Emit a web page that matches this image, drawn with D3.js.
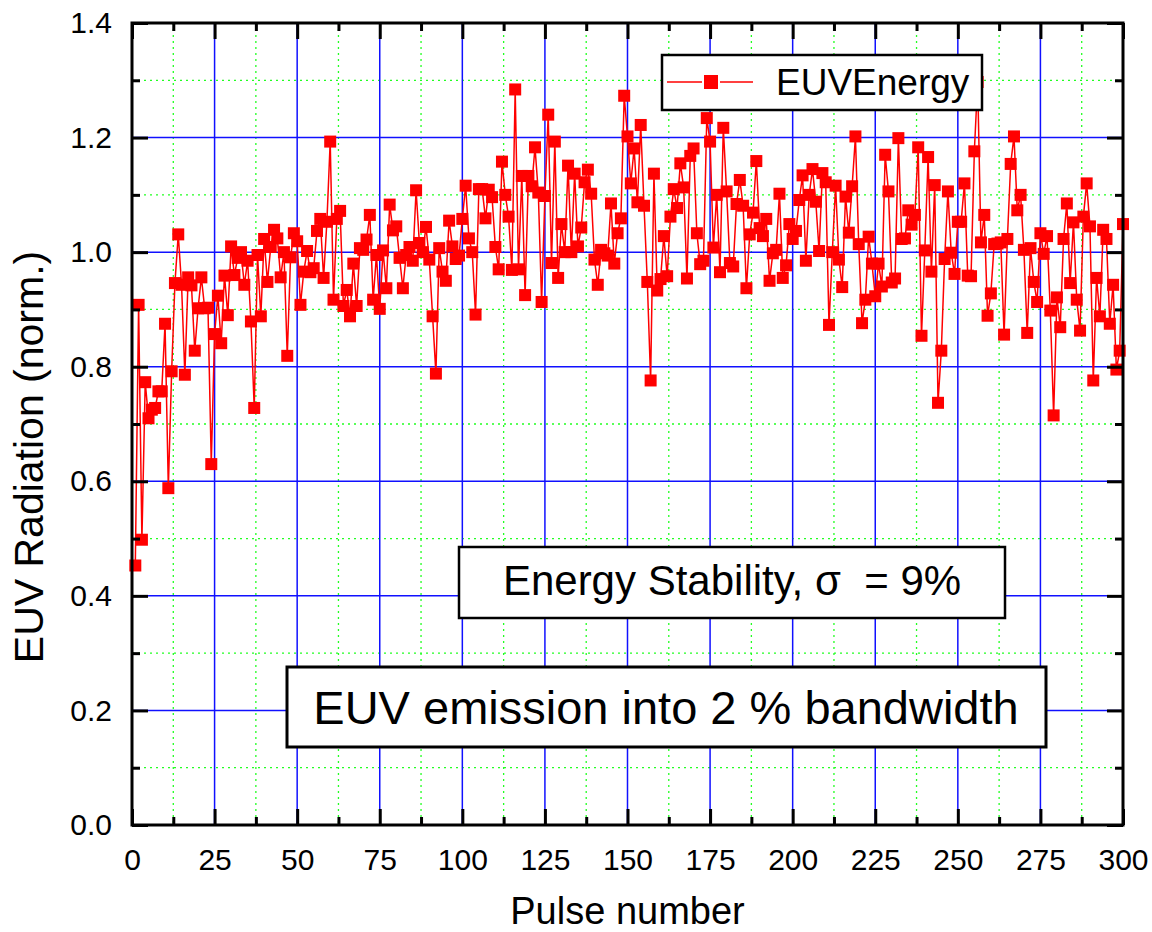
<!DOCTYPE html>
<html>
<head>
<meta charset="utf-8">
<script src="https://cdn.jsdelivr.net/npm/d3@7"></script>
<style>
  body { margin: 0; background: #fff; }
  text { font-family: "Liberation Sans", Arial, sans-serif; fill: #000; }
</style>
</head>
<body>
<script>
// EUV energy per pulse, pulses 1..300
var energy = [
  0.453, 0.908, 0.498, 0.773, 0.710, 0.725, 0.728, 0.757, 0.757, 0.875,
  0.588, 0.792, 0.946, 1.031, 0.943, 0.786, 0.956, 0.942, 0.828, 0.902,
  0.956, 0.902, 0.903, 0.630, 0.857, 0.924, 0.841, 0.959, 0.890, 1.010,
  0.960, 0.990, 1.000, 0.943, 0.985, 0.879, 0.728, 0.995, 0.888, 1.023,
  0.948, 1.009, 1.039, 1.024, 0.956, 1.000, 0.819, 0.991, 1.033, 1.019,
  0.908, 0.966, 1.002, 0.965, 0.972, 1.037, 1.058, 0.955, 1.053, 1.193,
  0.917, 1.058, 1.072, 0.906, 0.934, 0.888, 0.980, 0.906, 1.007, 1.004,
  1.022, 1.065, 0.917, 0.995, 0.901, 1.003, 0.937, 1.083, 1.038, 1.045,
  0.990, 0.937, 0.995, 1.009, 0.985, 1.108, 1.016, 1.000, 1.044, 0.987,
  0.888, 0.788, 1.007, 0.966, 0.950, 1.055, 1.010, 0.988, 0.994, 1.058,
  1.116, 1.024, 1.000, 0.891, 1.110, 1.110, 1.059, 1.109, 1.096, 1.009,
  0.970, 1.158, 1.100, 1.062, 0.969, 1.284, 0.970, 1.133, 0.925, 1.133,
  1.115, 1.183, 1.104, 0.913, 1.098, 1.240, 0.981, 1.193, 0.955, 1.049,
  1.000, 1.151, 1.000, 1.137, 1.010, 1.043, 1.122, 1.144, 1.102, 0.987,
  0.943, 1.004, 0.998, 0.994, 1.085, 0.980, 1.033, 1.059, 1.273, 1.202,
  1.120, 1.181, 1.087, 1.222, 1.081, 0.948, 0.776, 1.137, 0.933, 0.953,
  1.028, 0.958, 1.062, 1.110, 1.077, 1.155, 1.113, 0.954, 1.168, 1.181,
  1.033, 0.979, 0.985, 1.234, 1.193, 1.008, 1.100, 0.965, 1.217, 1.106,
  0.981, 0.975, 1.084, 1.126, 1.081, 0.937, 1.031, 1.069, 1.159, 1.042,
  1.028, 1.058, 0.950, 0.998, 1.004, 1.102, 0.955, 0.977, 1.049, 1.023,
  1.037, 1.091, 1.134, 0.985, 1.100, 1.145, 1.088, 1.002, 1.138, 1.122,
  0.873, 1.000, 1.116, 0.987, 0.939, 1.097, 1.034, 1.115, 1.202, 1.014,
  0.876, 0.917, 1.027, 0.980, 0.923, 0.980, 0.940, 1.170, 1.106, 0.947,
  0.954, 1.199, 1.023, 1.024, 1.073, 1.048, 1.065, 1.183, 0.854, 1.003,
  1.166, 0.966, 1.117, 0.737, 0.828, 0.988, 1.106, 0.999, 0.962, 1.053,
  1.053, 1.120, 0.959, 0.958, 1.176, 1.297, 1.017, 1.065, 0.889, 0.928,
  1.014, 1.015, 1.017, 0.856, 1.023, 1.154, 1.202, 1.073, 1.100, 1.004,
  0.859, 1.007, 0.948, 0.913, 1.033, 0.997, 1.028, 0.898, 0.715, 0.921,
  0.869, 1.023, 1.085, 0.946, 1.052, 0.917, 0.863, 1.062, 1.120, 1.045,
  0.776, 0.955, 0.888, 1.039, 1.023, 0.875, 0.943, 0.795, 0.828, 1.049
];

var xTicks = [0, 25, 50, 75, 100, 125, 150, 175, 200, 225, 250, 275, 300];
var xMinor = [12.5, 37.5, 62.5, 87.5, 112.5, 137.5, 162.5, 187.5, 212.5, 237.5, 262.5, 287.5];
var yTicks = [0.0, 0.2, 0.4, 0.6, 0.8, 1.0, 1.2, 1.4];
var yMinor = [0.1, 0.3, 0.5, 0.7, 0.9, 1.1, 1.3];

var seriesName = "EUVEnergy";
var note1 = "Energy Stability, \u03c3 \u00a0= 9%";
var note2 = "EUV emission into 2 % bandwidth";

var W = 1152, H = 932;
var margin = {top: 23, right: 29, bottom: 107, left: 132},
  width = W - margin.left - margin.right,
  height = H - margin.top - margin.bottom;

var x = d3.scaleLinear().domain([0, 300]).range([0, width]);
var y = d3.scaleLinear().domain([0, 1.4]).range([height, 0]);

var svg = d3.select("body").append("svg")
  .attr("width", W)
  .attr("height", H);

var g = svg.append("g")
  .attr("transform", "translate(" + margin.left + "," + margin.top + ")");

// minor grid (green dotted)
g.append("g").selectAll("line.vminor")
  .data(xMinor).enter().append("line")
  .attr("x1", function(d) { return x(d); })
  .attr("x2", function(d) { return x(d); })
  .attr("y1", 0).attr("y2", height)
  .attr("stroke", "#22ff22").attr("stroke-width", 1.3)
  .attr("stroke-dasharray", "2,4");

g.append("g").selectAll("line.hminor")
  .data(yMinor).enter().append("line")
  .attr("y1", function(d) { return y(d); })
  .attr("y2", function(d) { return y(d); })
  .attr("x1", 0).attr("x2", width)
  .attr("stroke", "#22ff22").attr("stroke-width", 1.3)
  .attr("stroke-dasharray", "2,4");

// major grid (blue)
g.append("g").selectAll("line")
  .data(xTicks.slice(1, -1)).enter().append("line")
  .attr("x1", function(d) { return x(d); })
  .attr("x2", function(d) { return x(d); })
  .attr("y1", 0).attr("y2", height)
  .attr("stroke", "#1010ff").attr("stroke-width", 1.5);

g.append("g").selectAll("line")
  .data(yTicks.slice(1, -1)).enter().append("line")
  .attr("y1", function(d) { return y(d); })
  .attr("y2", function(d) { return y(d); })
  .attr("x1", 0).attr("x2", width)
  .attr("stroke", "#1010ff").attr("stroke-width", 1.5);

// data line + markers
var line = d3.line()
  .x(function(d, i) { return x(i + 1); })
  .y(function(d) { return y(d); });

g.append("path")
  .datum(energy)
  .attr("fill", "none")
  .attr("stroke", "#ff0000")
  .attr("stroke-width", 1.5)
  .attr("d", line);

var ms = 12;
g.append("g").selectAll("rect")
  .data(energy).enter().append("rect")
  .attr("x", function(d, i) { return x(i + 1) - ms / 2; })
  .attr("y", function(d) { return y(d) - ms / 2; })
  .attr("width", ms).attr("height", ms)
  .attr("fill", "#ff0000");

// axes: labels on bottom/left, inward ticks on all sides
function styleAxis(sel) {
  sel.select(".domain").remove();
  sel.selectAll(".tick line").attr("stroke", "#000").attr("stroke-width", 3);
  sel.selectAll("text").style("font-size", "30px").attr("fill", "#000");
}

g.append("g")
  .attr("transform", "translate(0," + height + ")")
  .call(d3.axisBottom(x).tickValues(xTicks).tickSize(-16).tickPadding(24))
  .call(styleAxis);
g.append("g")
  .attr("transform", "translate(0," + height + ")")
  .call(d3.axisBottom(x).tickValues(xMinor).tickSize(-8).tickFormat(""))
  .call(styleAxis);

g.append("g")
  .call(d3.axisTop(x).tickValues(xTicks).tickSize(-16).tickFormat(""))
  .call(styleAxis);
g.append("g")
  .call(d3.axisTop(x).tickValues(xMinor).tickSize(-8).tickFormat(""))
  .call(styleAxis);

g.append("g")
  .call(d3.axisLeft(y).tickValues(yTicks).tickSize(-16).tickPadding(20).tickFormat(d3.format(".1f")))
  .call(styleAxis);
g.append("g")
  .call(d3.axisLeft(y).tickValues(yMinor).tickSize(-8).tickFormat(""))
  .call(styleAxis);

g.append("g")
  .attr("transform", "translate(" + width + ",0)")
  .call(d3.axisRight(y).tickValues(yTicks).tickSize(-16).tickFormat(""))
  .call(styleAxis);
g.append("g")
  .attr("transform", "translate(" + width + ",0)")
  .call(d3.axisRight(y).tickValues(yMinor).tickSize(-8).tickFormat(""))
  .call(styleAxis);

// frame
g.append("rect")
  .attr("width", width).attr("height", height)
  .attr("fill", "none").attr("stroke", "#000").attr("stroke-width", 3);

// axis titles
svg.append("text")
  .attr("x", margin.left + width / 2)
  .attr("y", 924)
  .attr("text-anchor", "middle")
  .style("font-size", "38px")
  .text("Pulse number");

svg.append("text")
  .attr("transform", "translate(43,457) rotate(-90)")
  .attr("text-anchor", "middle")
  .style("font-size", "41px")
  .text("EUV Radiation (norm.)");

// legend
var lg = svg.append("g");
lg.append("rect")
  .attr("x", 662).attr("y", 55).attr("width", 320).attr("height", 55)
  .attr("fill", "#fff").attr("stroke", "#000").attr("stroke-width", 2.5);
lg.append("line")
  .attr("x1", 667).attr("x2", 753).attr("y1", 82).attr("y2", 82)
  .attr("stroke", "#ff0000").attr("stroke-width", 1.5);
lg.append("rect")
  .attr("x", 711 - 7).attr("y", 82 - 7).attr("width", 14).attr("height", 14)
  .attr("fill", "#ff0000").attr("stroke", "#fff").attr("stroke-width", 4);
lg.append("rect")
  .attr("x", 711 - 7).attr("y", 82 - 7).attr("width", 14).attr("height", 14)
  .attr("fill", "#ff0000");
lg.append("text")
  .attr("x", 776).attr("y", 95)
  .style("font-size", "37px")
  .text(seriesName);

// note boxes
svg.append("rect")
  .attr("x", 459).attr("y", 547).attr("width", 546).attr("height", 71)
  .attr("fill", "#fff").attr("stroke", "#000").attr("stroke-width", 2.5);
svg.append("text")
  .attr("x", 732).attr("y", 595)
  .attr("text-anchor", "middle")
  .style("font-size", "42px")
  .text(note1);

svg.append("rect")
  .attr("x", 287).attr("y", 667).attr("width", 759).attr("height", 80)
  .attr("fill", "#fff").attr("stroke", "#000").attr("stroke-width", 3);
svg.append("text")
  .attr("x", 666).attr("y", 724)
  .attr("text-anchor", "middle")
  .style("font-size", "47px")
  .text(note2);
</script>
</body>
</html>
